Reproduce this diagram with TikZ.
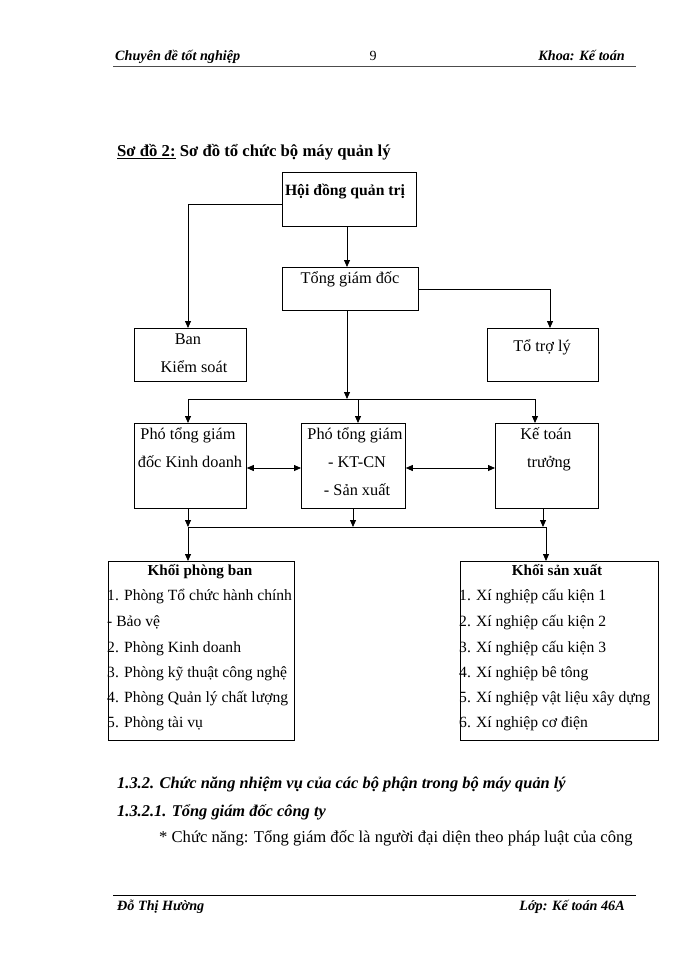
\documentclass[tikz,border=0pt]{standalone}
\usepackage{fontspec}
\setmainfont{Liberation Serif}
\usetikzlibrary{arrows.meta}
\begin{document}
\begin{tikzpicture}[x=1pt,y=-1pt,
  box/.style={draw,line width=0.8pt,anchor=north west,inner sep=0pt},
  txt/.style={inner sep=0pt,anchor=base,font=\fontsize{16.3}{19}\selectfont},
  ltxt/.style={inner sep=0pt,anchor=base west,font=\fontsize{15.6}{18}\selectfont},
  hdr/.style={inner sep=0pt,font=\fontsize{14.2}{16}\selectfont\bfseries\itshape},
  sec/.style={inner sep=0pt,anchor=base west,font=\fontsize{16.4}{19}\selectfont\bfseries\itshape},
  con/.style={line width=0.8pt},
  arr/.style={con,-{Triangle[length=7pt,width=6pt]}},
  darr/.style={con,{Triangle[length=7pt,width=6pt]}-{Triangle[length=7pt,width=6pt]}}]
\useasboundingbox (0,0) rectangle (700,960);
\fill[white] (0,0) rectangle (700,960);
% header
\node[hdr,anchor=base west] (h1) at (115,61) {Chuyên đề tốt nghiệp};
\node[inner sep=0pt,anchor=base,font=\fontsize{14}{16}\selectfont] (h2) at (373,61) {9};
\node[hdr,anchor=base east] (h3) at (625,61) {Khoa: Kế toán};
\draw[line width=1.2pt,gray!60!black] (113,66.5) -- (636,66.5);
% title
\node[inner sep=0pt,anchor=base west,font=\fontsize{16.7}{19}\selectfont\bfseries] (title) at (117,157) {\underline{Sơ đồ 2:} Sơ đồ tổ chức bộ máy quản lý};
% boxes
\node[box,minimum width=134pt,minimum height=54pt] (hdqt) at (282,172) {};
\node[txt,font=\fontsize{15.7}{18}\selectfont\bfseries] (thdqt) at (345,196) {Hội đồng quản trị};
\node[box,minimum width=136pt,minimum height=43pt] (tgd) at (282,267) {};
\node[txt] (ttgd) at (350,283) {Tổng giám  đốc};
\node[box,minimum width=112pt,minimum height=53pt] (bks) at (134,328) {};
\node[txt] (tbks1) at (188,344) {Ban};
\node[txt] (tbks2) at (194,372) {Kiểm  soát};
\node[box,minimum width=111pt,minimum height=53pt] (ttl) at (487,328) {};
\node[txt] (tttl) at (542,351) {Tổ trợ lý};
\node[box,minimum width=112pt,minimum height=85pt] (pkd) at (134,423) {};
\node[txt] (tpkd1) at (188,439) {Phó tổng giám};
\node[txt] (tpkd2) at (190,467) {đốc Kinh  doanh};
\node[box,minimum width=104pt,minimum height=85pt] (pkt) at (301,423) {};
\node[txt] (tpkt1) at (355,439) {Phó tổng giám};
\node[txt] (tpkt2) at (357,467) {- KT-CN};
\node[txt] (tpkt3) at (357,495) {- Sản xuất};
\node[box,minimum width=103pt,minimum height=85pt] (ktt) at (495,423) {};
\node[txt] (tktt1) at (546,439) {Kế toán};
\node[txt] (tktt2) at (549,467) {trưởng};
% bottom boxes text
\node[txt,font=\fontsize{15.2}{18}\selectfont\bfseries] (tkpb) at (200,575) {Khối phòng ban};
\node[ltxt] (pb1) at (107,600) {1. Phòng Tổ  chức  hành  chính};
\node[ltxt] (pb2) at (107,626) {- Bảo vệ};
\node[ltxt] (pb3) at (107,652) {2. Phòng Kinh doanh};
\node[ltxt] (pb4) at (107,677) {3. Phòng kỹ thuật  công nghệ};
\node[ltxt] (pb5) at (107,702) {4. Phòng Quản lý chất lượng};
\node[ltxt] (pb6) at (107,727) {5. Phòng tài vụ};
\node[txt,font=\fontsize{15.2}{18}\selectfont\bfseries] (tksx) at (557,575) {Khối  sản xuất};
\node[ltxt] (sx1) at (459,600) {1. Xí nghiệp  cấu kiện 1};
\node[ltxt] (sx2) at (459,626) {2. Xí nghiệp  cấu kiện 2};
\node[ltxt] (sx3) at (459,652) {3. Xí nghiệp  cấu kiện 3};
\node[ltxt] (sx4) at (459,677) {4. Xí nghiệp bê tông};
\node[ltxt] (sx5) at (459,702) {5. Xí nghiệp vật  liệu xây  dựng};
\node[ltxt] (sx6) at (459,727) {6. Xí nghiệp cơ điện};
\node[box,minimum width=186pt,minimum height=179pt] (kpb) at (108,561) {};
\node[box,minimum width=198pt,minimum height=179pt] (ksx) at (460,561) {};
% coordinates
\coordinate (a1) at (188,204);
\coordinate (a2) at (550,289);
\coordinate (b0) at (347,399);
\coordinate (bl) at (188,399);
\coordinate (bm) at (358,399);
\coordinate (br) at (535,399);
\coordinate (cl) at (188,527);
\coordinate (cm) at (353,527);
\coordinate (cr) at (543,527);
\coordinate (cr2) at (546,527);
% connectors
\draw[con] (hdqt.west |- a1) -- (a1);
\draw[arr] (a1) -- (a1 |- bks.north);
\draw[arr] (hdqt.south -| b0) -- (b0 |- tgd.north);
\draw[con] (tgd.east |- a2) -- (a2);
\draw[arr] (a2) -- (a2 |- ttl.north);
\draw[arr] (tgd.south -| b0) -- (b0);
\draw[con] (bl) -- (br);
\draw[arr] (bl) -- (bl |- pkd.north);
\draw[arr] (bm) -- (bm |- pkt.north);
\draw[arr] (br) -- (br |- ktt.north);
\draw[darr] (pkd.east |- 0,468) -- (pkt.west |- 0,468);
\draw[darr] (pkt.east |- 0,468) -- (ktt.west |- 0,468);
\draw[arr] (pkd.south -| cl) -- (cl);
\draw[arr] (pkt.south -| cm) -- (cm);
\draw[arr] (ktt.south -| cr) -- (cr);
\draw[con] (cl) -- (cr2);
\draw[arr] (cl) -- (cl |- kpb.north);
\draw[arr] (cr2) -- (cr2 |- ksx.north);
% sections
\node[sec] (s1) at (117,788) {1.3.2. Chức năng nhiệm vụ của các bộ phận trong bộ máy quản lý};
\node[sec] (s2) at (117,816) {1.3.2.1. Tổng giám đốc công ty};
\node[inner sep=0pt,anchor=base west,font=\fontsize{16.6}{19}\selectfont] (s3) at (159,842) {* Chức năng: Tổng giám  đốc là người đại diện theo pháp luật của công};
% footer
\draw[line width=0.8pt] (113,895) -- (636,895);
\node[hdr,anchor=base west] (f1) at (117,910) {Đỗ Thị Hường};
\node[hdr,anchor=base east] (f2) at (625,910) {Lớp: Kế toán 46A};
\end{tikzpicture}
\end{document}
